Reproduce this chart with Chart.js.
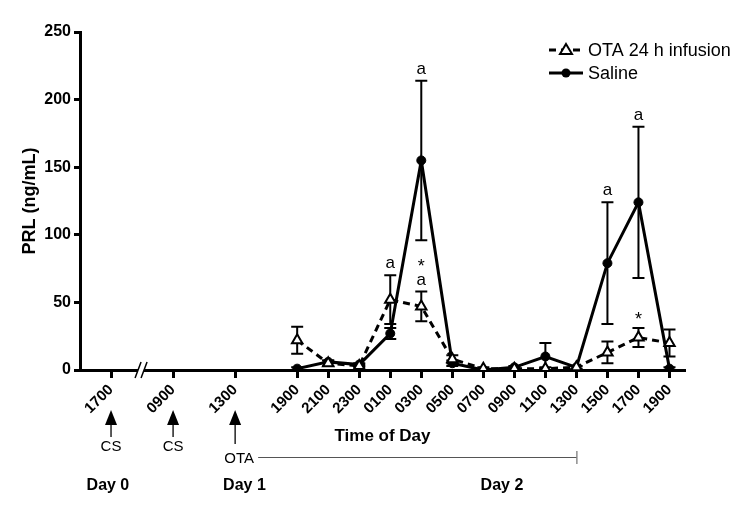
<!DOCTYPE html>
<html>
<head>
<meta charset="utf-8">
<script src="https://cdn.jsdelivr.net/npm/chart.js@4/dist/chart.umd.min.js"></script>
<style>
  html, body { margin: 0; padding: 0; background: #fff; }
  #wrap { width: 750px; height: 514px; }
</style>
</head>
<body>
<div id="wrap"><canvas id="prlChart" width="750" height="514"></canvas></div>
<script>
// sampling slots along the time axis (blank = gap slot, no sample)
const timeLabels = ['', '1700', '', '0900', '', '1300', '', '1900', '2100', '2300', '0100', '0300', '0500', '0700', '0900', '1100', '1300', '1500', '1700', '1900'];

// PRL (ng/mL), mean and SEM
const otaValues    = [null, null, null, null, null, null, null, 22, 5, 3, 52, 47, 8, 1, 1, 1, 2, 13, 24, 20];
const otaSem       = [null, null, null, null, null, null, null, 10, 2, 1, 18, 11, 3, 1, 1, 1, 1, 8, 7, 10];
const salineValues = [null, null, null, null, null, null, null, 1, 6, 4, 27, 155, 5, 0, 2, 10, 2, 79, 124, 1];
const salineSem    = [null, null, null, null, null, null, null, 1, 1, 1, 4, 59, 2, 1, 1, 10, 1, 45, 56, 1];

// significance marks above the error bars (top line first)
const otaMarks    = ['', '', '', '', '', '', '', '', '', '', 'a', '*\na', '', '', '', '', '', '', '*', ''];
const salineMarks = ['', '', '', '', '', '', '', '', '', '', '', 'a', '', '', '', '', '', 'a', 'a', ''];

// events below the axis
const eventSlots  = [1, 3, 5];
const eventNames  = ['CS', 'CS', 'OTA'];
const infusionEnd = 16;
const dayNames    = ['Day 0', 'Day 1', 'Day 2'];
const daySlots    = [0.9, 5.3, 13.6];

const FONT = "'Liberation Sans', Arial, Helvetica, sans-serif";
Chart.defaults.font.family = FONT;
Chart.defaults.color = '#000';

function toPoints(values) {
  return values.map((v, i) => ({ x: i, y: v })).filter(p => p.y !== null);
}

const extras = {
  id: 'extras',
  beforeDatasetsDraw(chart) {
    const ctx = chart.ctx;
    const xs = chart.scales.x, ys = chart.scales.y;
    ctx.save();
    ctx.strokeStyle = '#000';
    ctx.lineWidth = 2;
    chart.data.datasets.forEach(ds => {
      ds.sem.forEach((e, i) => {
        const v = ds.means[i];
        if (v === null || e === null) return;
        const x = xs.getPixelForValue(i);
        const yt = ys.getPixelForValue(v + e);
        const yb = ys.getPixelForValue(Math.max(v - e, 0));
        ctx.beginPath();
        ctx.moveTo(x, yt); ctx.lineTo(x, yb);
        ctx.moveTo(x - 6, yt); ctx.lineTo(x + 6, yt);
        ctx.moveTo(x - 6, yb); ctx.lineTo(x + 6, yb);
        ctx.stroke();
      });
    });
    ctx.restore();
  },
  afterDatasetsDraw(chart) {
    const ctx = chart.ctx;
    const xs = chart.scales.x, ys = chart.scales.y;
    const area = chart.chartArea;
    ctx.save();

    // marks over error bars
    ctx.fillStyle = '#000';
    ctx.textAlign = 'center';
    ctx.textBaseline = 'alphabetic';
    chart.data.datasets.forEach(ds => {
      ds.marks.forEach((m, i) => {
        if (!m) return;
        const x = xs.getPixelForValue(i);
        const top = ys.getPixelForValue(ds.means[i] + ds.sem[i]);
        const lines = m.split('\n');
        lines.forEach((t, k) => {
          const y = top - 7 - (lines.length - 1 - k) * 17;
          ctx.font = (t === '*' ? '18px ' : '17px ') + FONT;
          ctx.fillText(t, x, t === '*' ? y + 4 : y);
        });
      });
    });

    // legend
    chart.data.datasets.forEach((ds, i) => {
      const y = 50 + i * 23;
      ctx.strokeStyle = '#000';
      ctx.lineWidth = 3;
      ctx.setLineDash(ds.borderDash || []);
      ctx.beginPath();
      ctx.moveTo(549, y); ctx.lineTo(583, y);
      ctx.stroke();
      ctx.setLineDash([]);
      ctx.lineWidth = 2;
      if (ds.pointStyle === 'triangle') {
        ctx.fillStyle = '#fff';
        ctx.beginPath();
        ctx.moveTo(566, y - 6); ctx.lineTo(572, y + 4); ctx.lineTo(560, y + 4);
        ctx.closePath();
        ctx.fill(); ctx.stroke();
      } else {
        ctx.fillStyle = '#000';
        ctx.beginPath();
        ctx.arc(566, y, 4.5, 0, Math.PI * 2);
        ctx.fill();
      }
      ctx.fillStyle = '#000';
      ctx.font = '18px ' + FONT;
      ctx.textAlign = 'left';
      ctx.textBaseline = 'middle';
      ctx.fillText(ds.label, 588, y + 1);
    });

    // axis break
    const bx = xs.getPixelForValue(2), by = area.bottom;
    ctx.fillStyle = '#fff';
    ctx.beginPath();
    ctx.moveTo(bx - 7, by + 8); ctx.lineTo(bx - 1, by - 8);
    ctx.lineTo(bx + 5, by - 8); ctx.lineTo(bx - 1, by + 8);
    ctx.closePath(); ctx.fill();
    ctx.strokeStyle = '#000';
    ctx.lineWidth = 1.5;
    ctx.beginPath();
    ctx.moveTo(bx - 7, by + 8); ctx.lineTo(bx - 1, by - 8);
    ctx.moveTo(bx - 1, by + 8); ctx.lineTo(bx + 5, by - 8);
    ctx.stroke();

    // event arrows
    eventSlots.forEach((s, k) => {
      const x = xs.getPixelForValue(s);
      const isOta = eventNames[k] === 'OTA';
      ctx.fillStyle = '#000';
      ctx.beginPath();
      ctx.moveTo(x, 410); ctx.lineTo(x + 6, 425); ctx.lineTo(x - 6, 425);
      ctx.closePath(); ctx.fill();
      ctx.strokeStyle = '#000';
      ctx.lineWidth = 1.3;
      ctx.beginPath();
      ctx.moveTo(x, 424); ctx.lineTo(x, isOta ? 444 : 437);
      ctx.stroke();
      ctx.font = '15px ' + FONT;
      ctx.textAlign = 'center';
      ctx.textBaseline = 'middle';
      ctx.fillText(eventNames[k], isOta ? x + 4 : x, isOta ? 459 : 447);
      if (isOta) {
        const xe = xs.getPixelForValue(infusionEnd);
        ctx.strokeStyle = '#555';
        ctx.lineWidth = 1;
        ctx.beginPath();
        ctx.moveTo(x + 23, 457.5); ctx.lineTo(xe, 457.5);
        ctx.moveTo(xe + 0.5, 451); ctx.lineTo(xe + 0.5, 464);
        ctx.stroke();
      }
    });

    // day labels
    ctx.fillStyle = '#000';
    ctx.font = 'bold 16px ' + FONT;
    ctx.textAlign = 'center';
    ctx.textBaseline = 'middle';
    dayNames.forEach((d, k) => {
      ctx.fillText(d, xs.getPixelForValue(daySlots[k]), 486);
    });
    ctx.restore();
  }
};

const ctxLine = document.getElementById('prlChart').getContext('2d');
new Chart(ctxLine, {
  type: 'line',
  data: {
    datasets: [
      {
        label: 'OTA 24 h infusion',
        data: toPoints(otaValues),
        means: otaValues,
        sem: otaSem,
        marks: otaMarks,
        borderColor: '#000',
        borderWidth: 3,
        borderDash: [7, 5],
        pointStyle: 'triangle',
        pointRadius: 6,
        pointBorderWidth: 2,
        pointBackgroundColor: '#fff',
        pointBorderColor: '#000',
        tension: 0,
      },
      {
        label: 'Saline',
        data: toPoints(salineValues),
        means: salineValues,
        sem: salineSem,
        marks: salineMarks,
        borderColor: '#000',
        borderWidth: 3,
        pointStyle: 'circle',
        pointRadius: 4.5,
        pointBorderWidth: 1,
        pointBackgroundColor: '#000',
        pointBorderColor: '#000',
        tension: 0,
      },
    ],
  },
  options: {
    responsive: false,
    animation: false,
    layout: { padding: { top: 32, right: 65, bottom: 0, left: 0 } },
    plugins: { legend: { display: false }, tooltip: { enabled: false } },
    scales: {
      x: {
        type: 'linear',
        min: 0,
        max: timeLabels.length - 0.5,
        afterBuildTicks(scale) {
          scale.ticks = timeLabels
            .map((t, i) => ({ value: i, t }))
            .filter(o => o.t !== '')
            .map(o => ({ value: o.value }));
        },
        afterFit(scale) { scale.height = 144; },
        ticks: {
          autoSkip: false,
          minRotation: 45,
          maxRotation: 45,
          padding: 3,
          font: { size: 15, weight: 'bold' },
          callback: (v) => timeLabels[v] || '',
        },
        grid: { drawOnChartArea: false, drawTicks: true, tickLength: 8, tickWidth: 3, tickColor: '#000' },
        border: { display: true, width: 3, color: '#000' },
        title: {
          display: true,
          text: 'Time of Day',
          font: { size: 17, weight: 'bold' },
          padding: { top: 0, bottom: 67 },
        },
      },
      y: {
        min: 0,
        max: 250,
        afterFit(scale) { scale.width = 80; },
        ticks: { stepSize: 50, padding: 3, font: { size: 16, weight: 'bold' } },
        grid: { drawOnChartArea: false, drawTicks: true, tickLength: 6, tickWidth: 3, tickColor: '#000' },
        border: { display: true, width: 3, color: '#000' },
        title: {
          display: true,
          text: 'PRL (ng/mL)',
          font: { size: 18, weight: 'bold' },
          padding: { top: 19, bottom: 0 },
        },
      },
    },
  },
  plugins: [extras],
});
</script>
</body>
</html>
